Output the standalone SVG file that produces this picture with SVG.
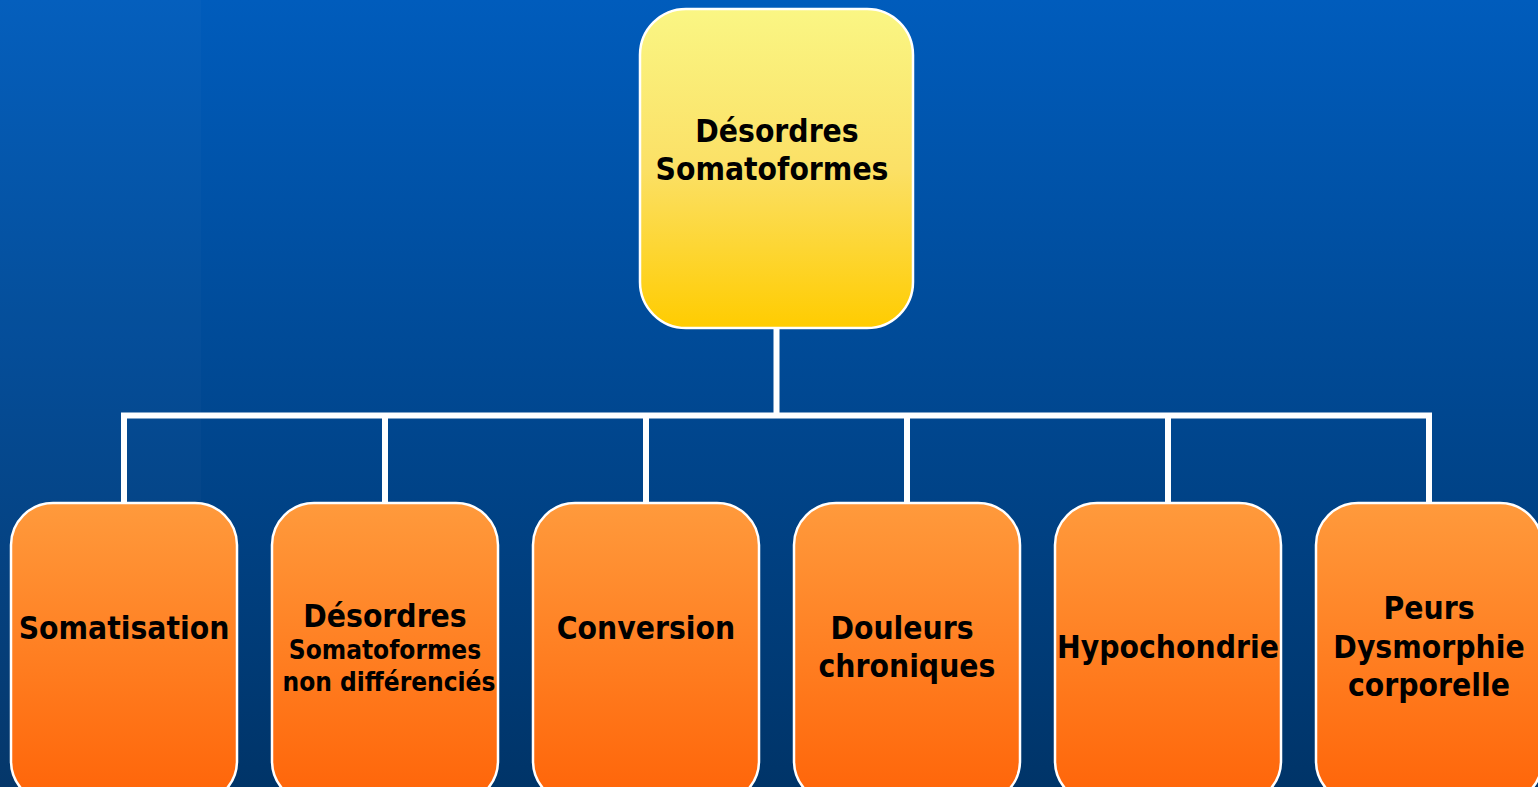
<svg xmlns="http://www.w3.org/2000/svg" width="1538" height="787" viewBox="0 0 1538 787">
<style>
.lbl{font-family:"DejaVu Sans Condensed","DejaVu Sans",sans-serif;font-stretch:condensed;font-weight:bold;fill:#000;text-anchor:middle}
.big{font-size:31.5px}
.sm{font-size:26px}
.box{stroke:#fff;stroke-width:2.5}
.conn{stroke:#fff;stroke-width:6;fill:none}
</style>
<defs>
<linearGradient id="bg" x1="0" y1="0" x2="0" y2="1">
<stop offset="0" stop-color="#005CBC"/>
<stop offset="1" stop-color="#003468"/>
</linearGradient>
<linearGradient id="yel" x1="0" y1="0" x2="0" y2="1">
<stop offset="0" stop-color="#FAF684"/>
<stop offset="0.5" stop-color="#FBE066"/>
<stop offset="1" stop-color="#FFCC00"/>
</linearGradient>
<linearGradient id="org" x1="0" y1="0" x2="0" y2="1">
<stop offset="0" stop-color="#FF9A3C"/>
<stop offset="1" stop-color="#FF6408"/>
</linearGradient>
</defs>
<rect x="0" y="0" width="1538" height="787" fill="url(#bg)"/>
<rect x="0" y="0" width="201" height="787" fill="#ffffff" opacity="0.018"/>
<g id="connectors">
<path class="conn" d="M776.5 328V415.5M121 415.5H1432M124 415V503M385 415V503M646 415V503M907 415V503M1168 415V503M1429 415V503"/>
</g>
<g id="root">
<rect class="box" x="640" y="9" width="273" height="319" rx="46" fill="url(#yel)"/>
<text class="lbl big" x="777" y="142">Désordres</text>
<text class="lbl big" x="772" y="180">Somatoformes</text>
</g>
<g id="n1">
<rect class="box" x="11" y="503" width="226" height="300" rx="42" fill="url(#org)"/>
<text class="lbl big" x="124" y="639">Somatisation</text>
</g>
<g id="n2">
<rect class="box" x="272" y="503" width="226" height="300" rx="42" fill="url(#org)"/>
<text class="lbl big" x="385" y="627">Désordres</text>
<text class="lbl sm" x="385" y="659">Somatoformes</text>
<text class="lbl sm" x="389" y="691">non différenciés</text>
</g>
<g id="n3">
<rect class="box" x="533" y="503" width="226" height="300" rx="42" fill="url(#org)"/>
<text class="lbl big" x="646" y="639">Conversion</text>
</g>
<g id="n4">
<rect class="box" x="794" y="503" width="226" height="300" rx="42" fill="url(#org)"/>
<text class="lbl big" x="902" y="639">Douleurs</text>
<text class="lbl big" x="907" y="677">chroniques</text>
</g>
<g id="n5">
<rect class="box" x="1055" y="503" width="226" height="300" rx="42" fill="url(#org)"/>
<text class="lbl big" x="1168" y="658">Hypochondrie</text>
</g>
<g id="n6">
<rect class="box" x="1316" y="503" width="226" height="300" rx="42" fill="url(#org)"/>
<text class="lbl big" x="1429" y="619">Peurs</text>
<text class="lbl big" x="1429" y="658">Dysmorphie</text>
<text class="lbl big" x="1429" y="696">corporelle</text>
</g>
</svg>
